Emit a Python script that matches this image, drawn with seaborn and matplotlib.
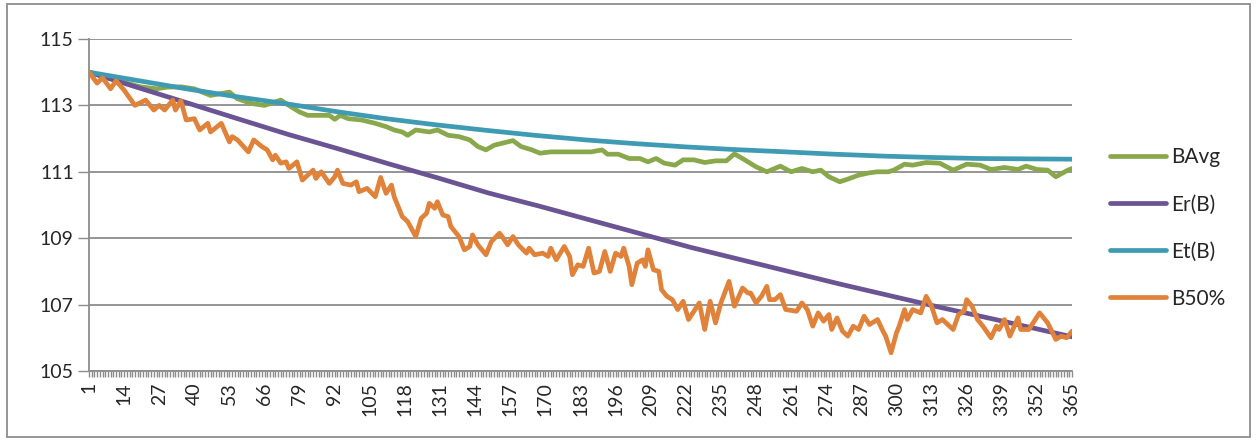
import pandas as pd
import seaborn as sns
import matplotlib.pyplot as plt
from matplotlib.patches import Rectangle

# Series (day -> value)
bavg_days = [1, 10, 20, 26, 30, 35, 40, 46, 53, 56, 61, 66, 72, 75, 79, 82, 86, 90, 92, 94,
             97, 102, 107, 111, 114, 117, 119, 122, 127, 130, 134, 138, 142, 145, 148, 151,
             154, 158, 161, 165, 168, 172, 177, 182, 187, 191, 193, 197, 201, 205, 208, 211,
             214, 218, 221, 225, 229, 233, 237, 240, 243, 248, 252, 257, 261, 265, 269, 272,
             275, 279, 282, 286, 290, 293, 297, 299, 303, 306, 311, 316, 321, 326, 331, 335,
             340, 345, 348, 352, 356, 359, 363, 365]
bavg_vals = [114.0, 113.78, 113.56, 113.5, 113.55, 113.56, 113.5, 113.3, 113.4, 113.2, 113.06,
             113.0, 113.16, 113.0, 112.8, 112.7, 112.7, 112.7, 112.58, 112.7, 112.6, 112.56,
             112.46, 112.36, 112.26, 112.2, 112.1, 112.26, 112.2, 112.26, 112.1, 112.06,
             111.96, 111.76, 111.66, 111.8, 111.86, 111.94, 111.76, 111.66, 111.56, 111.6,
             111.6, 111.6, 111.6, 111.66, 111.53, 111.53, 111.4, 111.4, 111.3, 111.4, 111.26,
             111.2, 111.36, 111.36, 111.28, 111.33, 111.33, 111.54, 111.4, 111.15, 111.0,
             111.17, 111.0, 111.1, 111.0, 111.05, 110.85, 110.7, 110.78, 110.9, 110.97, 111.0,
             111.0, 111.05, 111.23, 111.2, 111.28, 111.26, 111.05, 111.23, 111.2, 111.07,
             111.13, 111.07, 111.17, 111.07, 111.05, 110.85, 111.03, 111.1]

er_days = [1, 19, 38, 56, 75, 93, 112, 130, 149, 168, 186, 205, 224, 242, 261, 279, 298,
           316, 335, 353, 365]
er_vals = [114.0, 113.54, 113.06, 112.6, 112.12, 111.7, 111.24, 110.82, 110.36, 109.96,
           109.56, 109.14, 108.72, 108.36, 107.98, 107.62, 107.26, 106.92, 106.58, 106.25,
           106.03]

et_days = [1, 19, 37, 55, 74, 92, 111, 129, 148, 166, 185, 203, 222, 240, 259, 277, 296,
           314, 331, 348, 365]
et_vals = [114.0, 113.75, 113.5, 113.27, 113.05, 112.82, 112.6, 112.42, 112.25, 112.1,
           111.96, 111.85, 111.75, 111.67, 111.6, 111.53, 111.47, 111.43, 111.4, 111.39,
           111.38]

b50_days = [1, 4, 6, 9, 11, 14, 18, 22, 25, 27, 29, 32, 33, 35, 37, 40, 42, 45, 46, 50, 53,
            54, 56, 60, 62, 65, 67, 69, 70, 72, 74, 75, 78, 80, 84, 85, 87, 90, 92, 93, 95,
            98, 100, 101, 104, 107, 109, 111, 113, 114, 117, 119, 122, 124, 126, 127, 129,
            130, 132, 134, 135, 138, 140, 142, 143, 145, 148, 150, 153, 154, 156, 158, 160,
            163, 164, 166, 169, 171, 172, 174, 177, 179, 180, 182, 184, 186, 188, 190, 192,
            194, 196, 198, 199, 201, 202, 204, 206, 207, 208, 210, 212, 213, 215, 217, 219,
            221, 223, 227, 229, 231, 233, 235, 238, 240, 243, 245, 246, 248, 250, 252, 253,
            255, 257, 259, 263, 265, 267, 269, 271, 273, 275, 276, 278, 280, 282, 284, 286,
            288, 290, 293, 295, 296, 298, 300, 301, 303, 304, 306, 309, 311, 313, 315, 317,
            319, 321, 323, 325, 326, 328, 330, 332, 335, 337, 338, 340, 342, 345, 346, 349,
            351, 353, 356, 359, 361, 363, 365]
b50_vals = [114.0, 113.67, 113.83, 113.5, 113.74, 113.46, 113.0, 113.16, 112.86, 113.0,
            112.86, 113.16, 112.86, 113.14, 112.56, 112.6, 112.26, 112.46, 112.2, 112.46,
            111.9, 112.06, 111.96, 111.6, 111.96, 111.76, 111.66, 111.36, 111.5, 111.26,
            111.3, 111.1, 111.3, 110.75, 111.05, 110.8, 111.0, 110.65, 110.85, 111.05,
            110.65, 110.6, 110.7, 110.4, 110.5, 110.25, 110.83, 110.35, 110.6, 110.25,
            109.65, 109.5, 109.05, 109.6, 109.75, 110.05, 109.9, 110.1, 109.7, 109.65,
            109.35, 109.05, 108.65, 108.75, 109.1, 108.8, 108.5, 108.9, 109.15, 109.05,
            108.8, 109.05, 108.8, 108.55, 108.7, 108.5, 108.55, 108.45, 108.7, 108.35,
            108.75, 108.45, 107.9, 108.2, 108.15, 108.7, 107.95, 108.0, 108.6, 108.0,
            108.55, 108.45, 108.7, 108.15, 107.6, 108.25, 108.35, 108.15, 108.65, 108.05,
            108.0, 107.45, 107.25, 107.15, 106.85, 107.1, 106.55, 107.05, 106.25, 107.1,
            106.45, 107.05, 107.7, 106.95, 107.5, 107.35, 107.35, 107.05, 107.25, 107.55,
            107.15, 107.15, 107.3, 106.85, 106.8, 107.05, 106.85, 106.35, 106.75, 106.5,
            106.7, 106.25, 106.6, 106.2, 106.05, 106.35, 106.25, 106.65, 106.4, 106.55,
            106.2, 106.05, 105.55, 106.15, 106.35, 106.85, 106.55, 106.85, 106.75, 107.25,
            106.95, 106.45, 106.55, 106.4, 106.25, 106.7, 106.8, 107.15, 106.95, 106.55,
            106.35, 106.0, 106.35, 106.25, 106.55, 106.05, 106.6, 106.25, 106.25, 106.5,
            106.75, 106.45, 105.95, 106.05, 106.0, 106.2]

series_names = ['BAvg', 'Er(B)', 'Et(B)', 'B50%']
colors = ['#88A84B', '#6A5494', '#3E9BB3', '#E0823A']

parts = []
for name, d, v in zip(series_names,
                      [bavg_days, er_days, et_days, b50_days],
                      [bavg_vals, er_vals, et_vals, b50_vals]):
    parts.append(pd.DataFrame({'day': d, 'value': v, 'serie': name}))
df = pd.concat(parts, ignore_index=True)

sns.set_style('white')
plt.rcParams['font.family'] = ['Lato', 'DejaVu Sans']

fig = plt.figure(figsize=(12.57, 4.40), dpi=100)
ax = fig.add_axes([89 / 1257, 1 - 371 / 440, (1072 - 89) / 1257, (371 - 39) / 440])

lw = 3.4
sns.lineplot(data=df, x='day', y='value', hue='serie', hue_order=series_names,
             palette=colors, estimator=None, linewidth=lw, ax=ax,
             solid_capstyle='round', solid_joinstyle='round')

grid_c = '#8c8c8c'
ax.set_xlim(1, 365)
ax.set_ylim(105, 115)
ax.set_yticks(range(105, 116, 2))
ax.set_xticks(range(1, 366, 13))
ax.set_xticks(range(1, 366), minor=True)
ax.tick_params(axis='x', which='both', direction='out', length=4, width=1,
               color=grid_c, labelrotation=90, labelsize=14, pad=4, bottom=True)
ax.tick_params(axis='y', direction='out', length=8, width=1, color=grid_c,
               labelsize=14, pad=3, left=True)
ax.yaxis.grid(True, color=grid_c, linewidth=1.3)
ax.xaxis.grid(False)
ax.set_axisbelow(True)
for s in ['top', 'right']:
    ax.spines[s].set_visible(False)
for s in ['left', 'bottom']:
    ax.spines[s].set_color(grid_c)
    ax.spines[s].set_linewidth(1.3)
ax.set_xlabel('')
ax.set_ylabel('')

handles, labels = ax.get_legend_handles_labels()
for h in handles:
    h.set_linewidth(lw)
    h.set_solid_capstyle('round')
ax.legend(handles, labels, loc='center left', frameon=False,
          bbox_to_anchor=(1110 / 1257, 1 - 228 / 440), bbox_transform=fig.transFigure,
          fontsize=15, handlelength=2.7, handletextpad=0.25, labelspacing=1.3,
          borderpad=0, borderaxespad=0)

fig.patches.append(Rectangle((7 / 1257, 3 / 440), 1243 / 1257, 433 / 440,
                             transform=fig.transFigure, fill=False,
                             edgecolor=grid_c, linewidth=1.3))

fig.savefig('out.png', dpi=100)
